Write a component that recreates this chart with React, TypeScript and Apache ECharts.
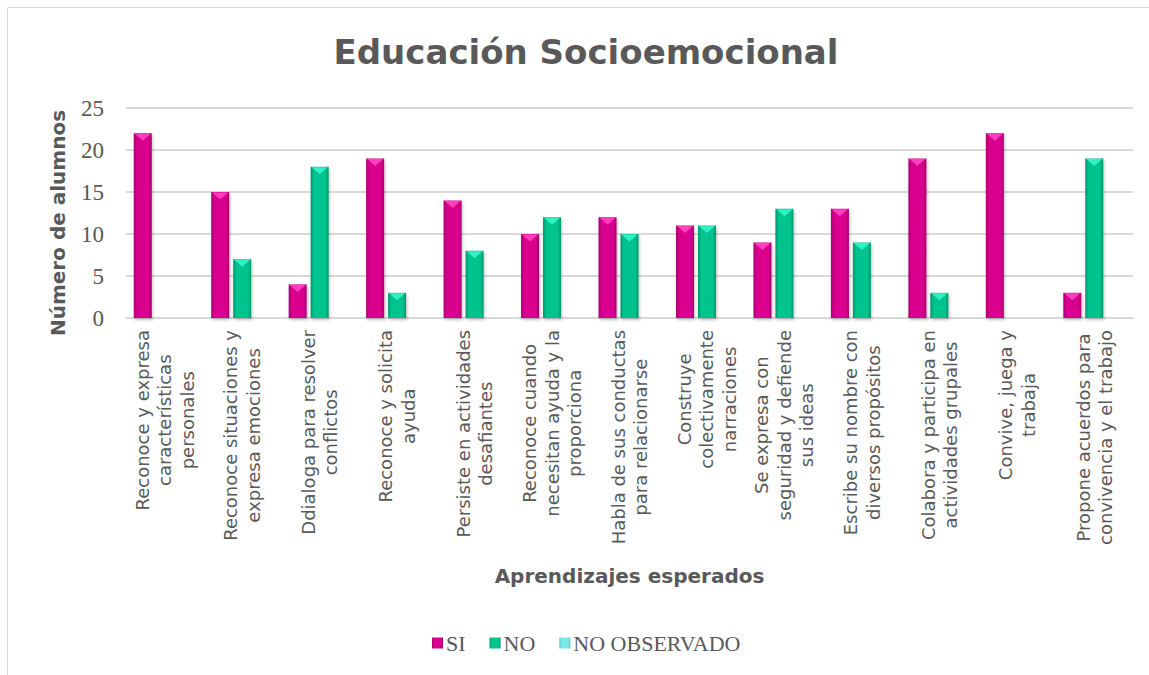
import React, { useEffect, useRef } from "react";
import * as echarts from "echarts";

const categories: string[] = [
  "Reconoce y expresa\ncaracterísticas\npersonales",
  "Reconoce situaciones y\nexpresa emociones",
  "Ddialoga para resolver\nconflictos",
  "Reconoce y solicita\nayuda",
  "Persiste en actividades\ndesafiantes",
  "Reconoce cuando\nnecesitan ayuda y la\nproporciona",
  "Habla de sus conductas\npara relacionarse",
  "Construye\ncolectivamente\nnarraciones",
  "Se expresa con\nseguridad y defiende\nsus ideas",
  "Escribe su nombre con\ndiversos propósitos",
  "Colabora y participa en\nactividades grupales",
  "Convive, juega y\ntrabaja",
  "Propone acuerdos para\nconvivencia y el trabajo",
];

const siValues: number[] = [22, 15, 4, 19, 14, 10, 12, 11, 9, 13, 19, 22, 3];
const noValues: number[] = [0, 7, 18, 3, 8, 12, 10, 11, 13, 9, 3, 0, 19];
const noObsValues: number[] = [0, 0, 0, 0, 0, 0, 0, 0, 0, 0, 0, 0, 0];

const seriesNames: string[] = ["SI", "NO", "NO OBSERVADO"];
const yTicks = { min: 0, max: 25, interval: 5 };

const TEXT = "#595959";
const SANS = "'DejaVu Sans', 'Noto Sans', sans-serif";
const SERIF = "'Liberation Serif', 'DejaVu Serif', serif";

function grad(edge: string, mid: string) {
  return new echarts.graphic.LinearGradient(0, 0, 1, 0, [
    { offset: 0, color: edge },
    { offset: 0.18, color: mid },
    { offset: 0.82, color: mid },
    { offset: 1, color: edge },
  ]);
}

export default function App() {
  const ref = useRef<HTMLDivElement>(null);
  useEffect(() => {
    if (!ref.current) return;
    const chart = echarts.init(ref.current, undefined, { renderer: "svg" });
    const barW = 18;
    const shadow = {
      shadowBlur: 3,
      shadowColor: "rgba(0,0,0,0.25)",
      shadowOffsetX: 1,
      shadowOffsetY: 2,
    };
    const tri = (vals: number[], dx: number, color: string, name: string) => ({
      type: "scatter",
      name: name,
      data: vals.map((v) => (v > 0 ? v : "-")),
      symbol: "triangle",
      symbolRotate: 180,
      symbolSize: [barW - 2, 7],
      symbolOffset: [dx, 4],
      itemStyle: { color, opacity: 1 },
      silent: true,
      z: 5,
    });
    chart.setOption({
      animation: false,
      backgroundColor: "#ffffff",
      title: {
        text: "Educación Socioemocional",
        left: 581,
        top: 30,
        textAlign: "center",
        textStyle: {
          fontFamily: SANS,
          fontSize: 34,
          fontWeight: "bold",
          color: TEXT,
        },
      },
      legend: {
        data: seriesNames,
        left: 427,
        top: 627,
        icon: "rect",
        itemWidth: 11,
        itemHeight: 11,
        itemGap: 24,
        textStyle: { fontFamily: SERIF, fontSize: 22, color: TEXT, padding: [2, 0, 0, -2] },
      },
      grid: { left: 126, right: 16, top: 108, bottom: 357, containLabel: false },
      xAxis: {
        type: "category",
        data: categories,
        name: "Aprendizajes esperados",
        nameLocation: "middle",
        nameGap: 248,
        nameTextStyle: {
          fontFamily: SANS,
          fontSize: 20,
          fontWeight: "bold",
          color: TEXT,
        },
        axisLine: { lineStyle: { color: "#d9d9d9", width: 2 } },
        axisTick: { show: false },
        axisLabel: {
          interval: 0,
          rotate: 90,
          margin: 12,
          formatter: (v: string) =>
            v
              .split("\n")
              .map((l) => `{a|${l}}`)
              .join("\n"),
          rich: {
            a: {
              align: "center",
              fontFamily: SANS,
              fontSize: 18,
              lineHeight: 22.5,
              color: TEXT,
            },
          },
        },
      },
      yAxis: {
        type: "value",
        min: yTicks.min,
        max: yTicks.max,
        interval: yTicks.interval,
        name: "Número de alumnos",
        nameLocation: "middle",
        nameRotate: 90,
        nameGap: 58,
        nameTextStyle: {
          fontFamily: SANS,
          fontSize: 20,
          fontWeight: "bold",
          color: TEXT,
          padding: [0, 20, 0, 0],
        },
        axisLine: { show: false },
        axisTick: { show: false },
        axisLabel: {
          fontFamily: SERIF,
          fontSize: 23,
          color: TEXT,
          margin: 22,
        },
        splitLine: { lineStyle: { color: "#d9d9d9", width: 2 } },
      },
      graphic: [
        {
          type: "rect",
          shape: { x: 7.5, y: 7.5, width: 1160, height: 680 },
          style: { fill: "none", stroke: "#d9d9d9", lineWidth: 1 },
          silent: true,
          z: -10,
        },
      ],
      series: [
        {
          type: "bar",
          name: seriesNames[0],
          data: siValues,
          barWidth: barW,
          barGap: "22%",
          itemStyle: {
            color: grad("#a8006f", "#d9008d"),
            ...shadow,
          },
        },
        {
          type: "bar",
          name: seriesNames[1],
          data: noValues,
          barWidth: barW,
          barGap: "22%",
          itemStyle: {
            color: grad("#00936a", "#00c48e"),
            ...shadow,
          },
        },
        {
          type: "bar",
          name: seriesNames[2],
          data: noObsValues,
          barWidth: barW,
          barGap: "22%",
          itemStyle: {
            color: grad("#4cc8c8", "#7ae8e8"),
          },
        },
        tri(siValues, -22, "#ff3fbd", "SI_top"),
        tri(noValues, 0, "#2ef2c4", "NO_top"),
      ],
    });
    return () => chart.dispose();
  }, []);
  return (
    <div
      ref={ref}
      style={{ position: "absolute", left: 0, top: 0, width: 1149, height: 675 }}
    />
  );
}
